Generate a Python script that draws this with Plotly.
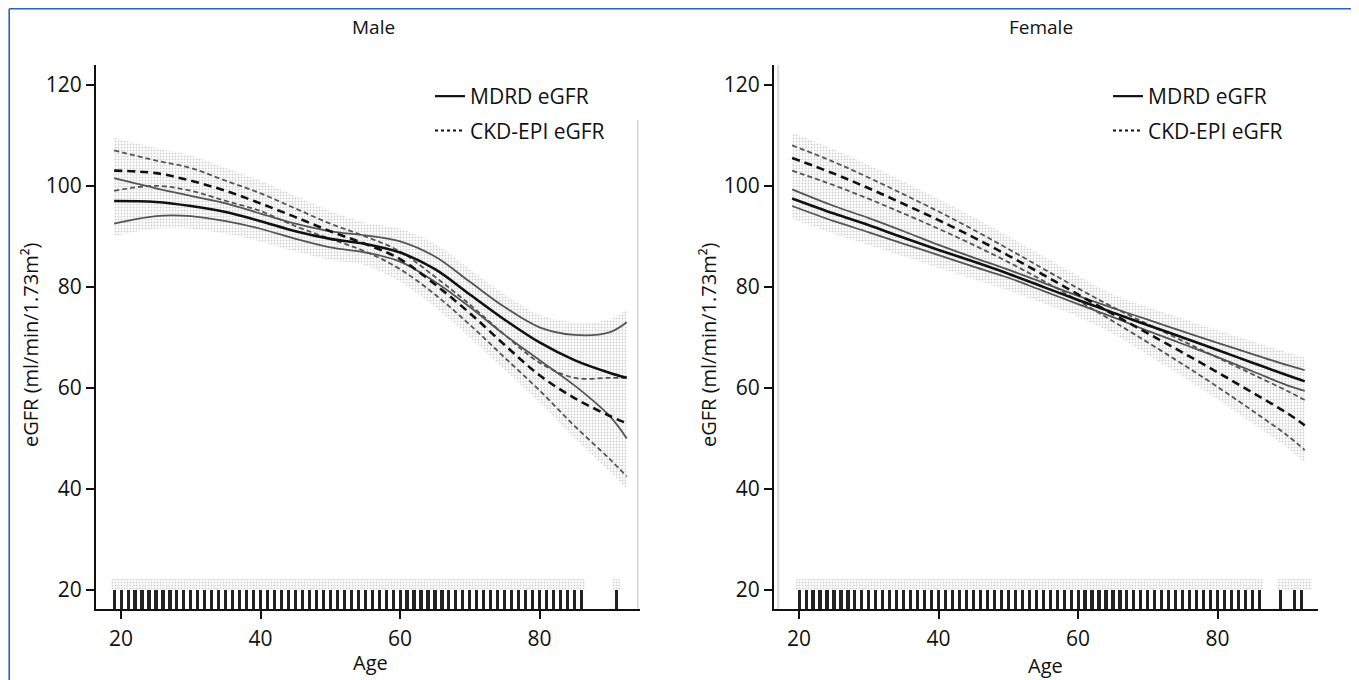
import numpy as np
import plotly.graph_objects as go

W, H = 1359, 680

# ---------------- data ----------------
ages = [19, 25, 30, 35, 40, 45, 50, 55, 60, 65, 70, 75, 80, 85, 90, 92.5]

male_mdrd = [97, 96.8, 96, 94.8, 93, 91, 89.5, 88.5, 86.8, 83.5, 78.5, 73.5, 69, 65.5, 63, 62]
male_mdrd_hi = [101.5, 99.5, 98, 96.5, 94.5, 92.5, 91, 90.2, 89, 86, 81, 76, 72, 70.5, 71, 73]
male_mdrd_lo = [92.5, 94, 94, 93, 91.5, 89.5, 87.8, 86.8, 85, 81, 76, 70.5, 65.5, 60.5, 54.5, 50]
male_ckd = [103, 102.5, 101, 99, 96.5, 93.8, 91, 88.5, 85.5, 80.5, 74.8, 68.5, 62.5, 58, 54.5, 53]
male_ckd_hi = [107, 105, 103.5, 101, 98.5, 95.5, 92.5, 90, 87, 82, 76.5, 70.5, 65, 62, 62, 62]
male_ckd_lo = [99, 100, 99, 97, 95, 92, 89.5, 87, 83.5, 78.5, 72.5, 66, 59.5, 52.5, 46, 42.5]

female_mdrd = [97.5, 94.5, 92.2, 89.7, 87.3, 85, 82.6, 80, 77.4, 74.9, 72.4, 70, 67.5, 65, 62.5, 61.3]
female_mdrd_hi = [99.3, 96, 93.6, 91, 88.3, 85.8, 83.4, 80.8, 78.2, 75.8, 73.5, 71.2, 68.9, 66.7, 64.5, 63.5]
female_mdrd_lo = [96, 93, 90.8, 88.5, 86.3, 84, 81.8, 79.2, 76.6, 74, 71.3, 68.7, 66.1, 63.3, 60.5, 59.4]
female_ckd = [105.5, 102.4, 99.5, 96.4, 93.2, 89.8, 86.2, 82.4, 78.5, 74.6, 70.8, 67, 63.1, 59.1, 55, 52.6]
female_ckd_hi = [108, 104.7, 101.6, 98.3, 94.9, 91.3, 87.5, 83.6, 79.7, 76, 72.6, 69.3, 66, 62.7, 59.4, 57.6]
female_ckd_lo = [103, 100.1, 97.4, 94.5, 91.5, 88.3, 84.9, 81.2, 77.3, 73.2, 69, 64.7, 60.2, 55.5, 50.6, 47.7]

rug_male = list(range(19, 87)) + [91]
rug_female = list(range(20, 87)) + [89, 91, 92]
strip_male = list(range(19, 87)) + [91]
strip_female = list(range(20, 87)) + [89, 90, 91, 92, 93]

x_ticks = [20, 40, 60, 80]
y_ticks = [20, 40, 60, 80, 100, 120]
X_RANGE = [16.4, 94.4]
Y_RANGE = [16.26, 123.9]
RUG_TOP = 20
STRIP_H = 2.2

FONT = "Open Sans"
INK = "#111111"
CI_COL = "#555555"

fig = go.Figure()


def add_panel(xr, yr, mdrd, mdrd_hi, mdrd_lo, ckd, ckd_hi, ckd_lo, rug, strip):
    allv = np.array([mdrd, mdrd_hi, mdrd_lo, ckd, ckd_hi, ckd_lo])
    top = allv.max(axis=0) + 2.5
    bot = allv.min(axis=0) - 2.5
    # speckled envelope of the scattered points
    fig.add_trace(go.Scatter(x=ages, y=top, mode="lines", line=dict(width=0, shape="spline"),
                             xaxis=xr, yaxis=yr, showlegend=False, hoverinfo="skip"))
    fig.add_trace(go.Scatter(x=ages, y=bot, mode="lines", line=dict(width=0, shape="spline"),
                             fill="tonexty", fillcolor="rgba(255,255,255,0)",
                             fillpattern=dict(shape=".", fgcolor="#a2a2a2", bgcolor="rgba(255,255,255,0)",
                                              size=3, solidity=0.33),
                             xaxis=xr, yaxis=yr, showlegend=False, hoverinfo="skip"))
    # rug speckle strip
    fig.add_trace(go.Bar(x=strip, y=[STRIP_H] * len(strip), base=RUG_TOP, width=1.0,
                         marker=dict(color="rgba(255,255,255,0)", line=dict(width=0),
                                     pattern=dict(shape=".", fgcolor="#a8a8a8", bgcolor="rgba(255,255,255,0)",
                                                  size=3, solidity=0.38)),
                         xaxis=xr, yaxis=yr, showlegend=False, hoverinfo="skip"))
    # rug ticks
    fig.add_trace(go.Bar(x=rug, y=[RUG_TOP - Y_RANGE[0]] * len(rug), base=Y_RANGE[0], width=0.45,
                         marker=dict(color="#222222", line=dict(width=0)),
                         xaxis=xr, yaxis=yr, showlegend=False, hoverinfo="skip"))
    # CI lines
    for s in (ckd_hi, ckd_lo):
        fig.add_trace(go.Scatter(x=ages, y=s, mode="lines",
                                 line=dict(color=CI_COL, width=1.8, dash="5px,3px", shape="spline"),
                                 xaxis=xr, yaxis=yr, showlegend=False, hoverinfo="skip"))
    for s in (mdrd_hi, mdrd_lo):
        fig.add_trace(go.Scatter(x=ages, y=s, mode="lines",
                                 line=dict(color=CI_COL, width=1.8, shape="spline"),
                                 xaxis=xr, yaxis=yr, showlegend=False, hoverinfo="skip"))
    fig.add_trace(go.Scatter(x=ages, y=ckd, mode="lines",
                             line=dict(color=INK, width=2.6, dash="8px,5px", shape="spline"),
                             xaxis=xr, yaxis=yr, showlegend=False, hoverinfo="skip"))
    fig.add_trace(go.Scatter(x=ages, y=mdrd, mode="lines",
                             line=dict(color=INK, width=2.6, shape="spline"),
                             xaxis=xr, yaxis=yr, showlegend=False, hoverinfo="skip"))


add_panel("x", "y", male_mdrd, male_mdrd_hi, male_mdrd_lo, male_ckd, male_ckd_hi, male_ckd_lo,
          rug_male, strip_male)
add_panel("x2", "y2", female_mdrd, female_mdrd_hi, female_mdrd_lo, female_ckd, female_ckd_hi,
          female_ckd_lo, rug_female, strip_female)

# legends (one per panel)
for leg, xa, ya in (("legend", "x", "y"), ("legend2", "x2", "y2")):
    fig.add_trace(go.Scatter(x=[None], y=[None], mode="lines", name="MDRD eGFR",
                             line=dict(color=INK, width=2.2), legend=leg, legendgroup=leg + "a",
                             xaxis=xa, yaxis=ya))
    fig.add_trace(go.Scatter(x=[None], y=[None], mode="lines", name="CKD-EPI eGFR",
                             line=dict(color=INK, width=2, dash="dot"), legend=leg, legendgroup=leg + "b",
                             xaxis=xa, yaxis=ya))

# page body has an 8px offset; positions below are in screen pixels
OFF = 8
male_dom = [(96 - OFF) / W, (640 - OFF) / W]
female_dom = [(774 - OFF) / W, (1318 - OFF) / W]
y_dom = [1 - (609 - OFF) / H, 1 - (65 - OFF) / H]


def px(x):
    return (x - OFF) / W


def py(y):
    return 1 - (y - OFF) / H


axis_common = dict(showgrid=False, zeroline=False, showline=True, linecolor=INK, linewidth=2,
                   ticks="outside", ticklen=8, tickwidth=2, tickcolor=INK,
                   tickfont=dict(family=FONT, size=21, color=INK))

leg_common = dict(xanchor="left", yanchor="top", bgcolor="rgba(255,255,255,0)",
                  font=dict(family=FONT, size=21, color=INK), tracegroupgap=4, traceorder="grouped")

fig.update_layout(
    width=W, height=H,
    margin=dict(l=0, r=0, t=0, b=0),
    paper_bgcolor="white", plot_bgcolor="white",
    barmode="overlay", bargap=0,
    font=dict(family=FONT, color=INK),
    xaxis=dict(domain=male_dom, range=X_RANGE, tickvals=x_ticks, anchor="y", ticklabelstandoff=2,
               **axis_common),
    yaxis=dict(domain=y_dom, range=Y_RANGE, tickvals=y_ticks, anchor="x", **axis_common),
    xaxis2=dict(domain=female_dom, range=X_RANGE, tickvals=x_ticks, anchor="y2", ticklabelstandoff=2,
                **axis_common),
    yaxis2=dict(domain=y_dom, range=Y_RANGE, tickvals=y_ticks, anchor="x2", **axis_common),
    legend=dict(x=px(430), y=py(76), **leg_common),
    legend2=dict(x=px(430 + 678), y=py(76), **leg_common),
)


def ann(text, x, y, size, angle=0):
    return dict(text=text, x=px(x), y=py(y), xref="paper", yref="paper", showarrow=False,
                xanchor="center", yanchor="middle", textangle=angle,
                font=dict(family=FONT, size=size, color=INK))


annotations = [
    ann("Male", 373, 27, 19),
    ann("Female", 1041, 27, 19),
    ann("Age", 371, 662, 20),
    ann("Age", 1045, 665, 20),
    ann("eGFR (ml/min/1.73m²)", 30, 345, 20, -90),
    ann("eGFR (ml/min/1.73m²)", 30 + 678, 345, 20, -90),
]
fig.update_layout(annotations=annotations)

shapes = [
    # blue frame (top and left)
    dict(type="line", xref="paper", yref="paper", x0=1.2 / W, x1=1, y0=1 - 0.8 / H, y1=1 - 0.8 / H,
         line=dict(color="#2f64b3", width=1.6)),
    dict(type="line", xref="paper", yref="paper", x0=1.2 / W, x1=1.2 / W, y0=0, y1=1 - 0.8 / H,
         line=dict(color="#2f64b3", width=1.6)),
    # faint grey right border of male panel
    dict(type="line", xref="x domain", yref="y", x0=0.996, x1=0.996, y0=Y_RANGE[0], y1=113,
         line=dict(color="#d6d6d6", width=1.5)),
    # faint grey speckle line near the female y axis
    dict(type="line", xref="x2", yref="y2 domain", x0=17, x1=17, y0=0, y1=1,
         line=dict(color="#dcdcdc", width=2)),
]
fig.update_layout(shapes=shapes)

fig.write_html("out.html", config={"displayModeBar": False})
